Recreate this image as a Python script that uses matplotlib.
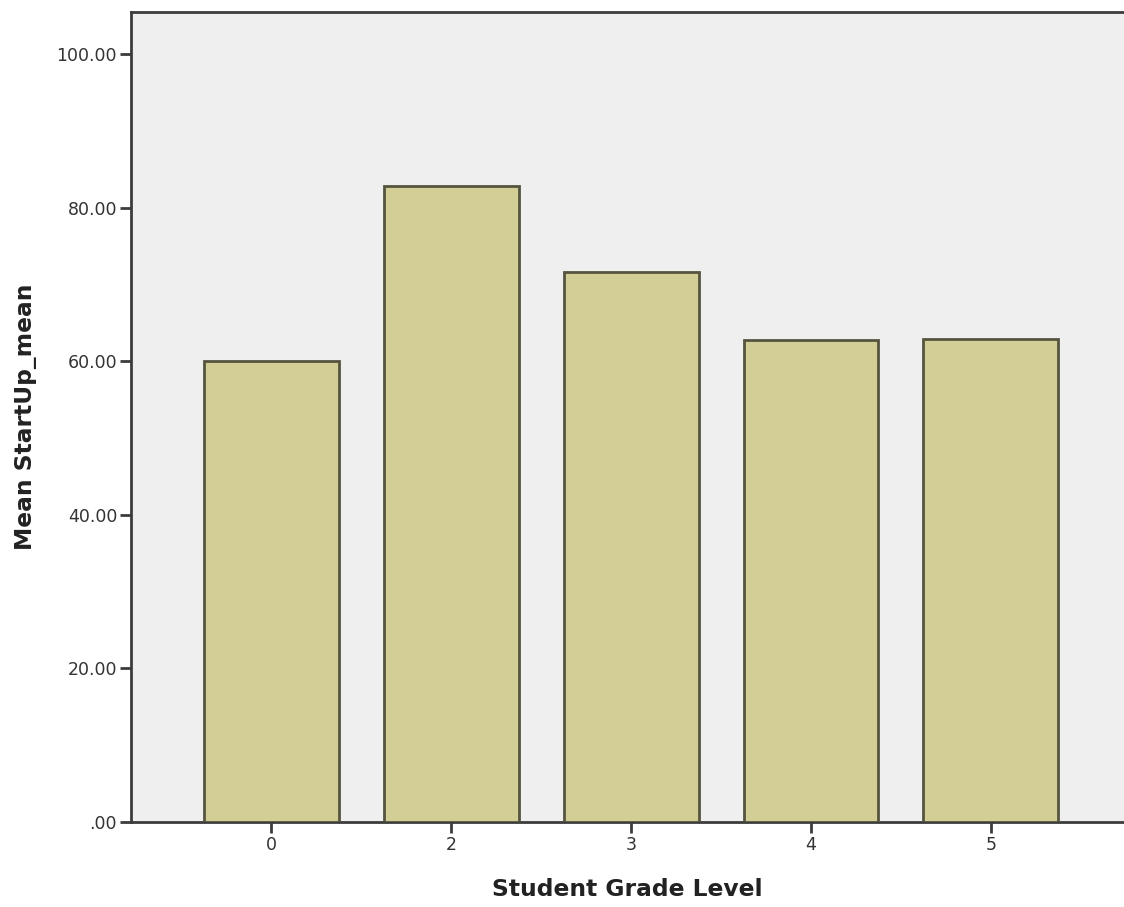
import matplotlib
matplotlib.use("Agg")
import matplotlib.pyplot as plt
from matplotlib.ticker import FuncFormatter

categories = ["0", "2", "3", "4", "5"]
values = [60.0, 82.8, 71.7, 62.8, 62.9]
yticks = [0, 20, 40, 60, 80, 100]

plt.rcParams['font.family'] = ['DejaVu Sans']

fig = plt.figure(figsize=(11.24, 9.07), dpi=100)
ax = fig.add_axes([131/1124, 1 - 822/907, 1 - 131/1124, (822 - 12)/907])
ax.set_facecolor('#EFEFEF')

x = list(range(len(categories)))
ax.bar(x, values, width=0.75, color='#D3CE96', edgecolor='#55553F', linewidth=2, zorder=3)

ax.set_xlim(-0.78, 4.74)
ax.set_ylim(0, 105.5)
ax.set_xticks(x)
ax.set_xticklabels(categories)
ax.set_yticks(yticks)
ax.yaxis.set_major_formatter(FuncFormatter(lambda v, p: '.00' if v == 0 else f'{v:.2f}'))

for s in ['left', 'bottom', 'top']:
    ax.spines[s].set_color('#3C3C3C')
    ax.spines[s].set_linewidth(2)
ax.spines['right'].set_visible(False)

ax.tick_params(axis='both', direction='out', length=8, width=2, color='#3C3C3C',
               labelsize=12.5, labelcolor='#333333', pad=2)

ax.set_xlabel('Student Grade Level', fontsize=16.8, fontweight='bold', color='#222222', labelpad=17)
ax.set_ylabel('Mean StartUp_mean', fontsize=16.8, fontweight='bold', color='#222222', labelpad=14)

fig.savefig('out.png', dpi=100)
